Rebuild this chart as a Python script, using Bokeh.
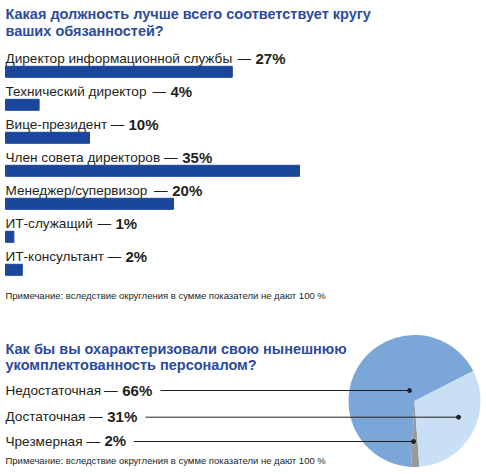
from bokeh.plotting import figure
from bokeh.models import Range1d
from bokeh.core.properties import value
from bokeh.embed import file_html
from bokeh.resources import INLINE
import math

# ---- data ----
title1 = ["Какая должность лучше всего соответствует кругу", "ваших обязанностей?"]
roles = ["Директор информационной службы", "Технический директор", "Вице-президент",
         "Член совета директоров", "Менеджер/супервизор", "ИТ-служащий", "ИТ-консультант"]
role_pct = [27, 4, 10, 35, 20, 1, 2]
note = "Примечание: вследствие округления в сумме показатели не дают 100 %"

title2 = ["Как бы вы охарактеризовали свою нынешнюю", "укомплектованность персоналом?"]
staff = ["Недостаточная", "Достаточная", "Чрезмерная"]
staff_pct = [66, 31, 2]

# ---- layout / style ----
W, H = 486, 474
PX = 8.4                        # pixels per percent unit
X0 = 5                          # left edge of bars in pixels
def fx(px):                     # pixel x -> data x
    return (px - X0) / PX
def fy(py):                     # pixel y from top -> data y
    return H - py
def base(py, fs):               # alphabetic baseline (pixels) -> middle anchor
    return fy(py - 0.36 * fs)

FONT = value("Liberation Sans")
TXT = "#231f20"
BLUE_T = "#2d4b9b"
BAR = "#1a479b"
STAFF_COLS = ["#7ba7d8", "#c8dff5", "#9a9a9a"]
pie_order = [0, 2, 1]
FS_T, FS_L, FS_P, FS_N = 14.5, 13.6, 15, 9.5

p = figure(width=W, height=H, x_range=Range1d(fx(0), fx(W)), y_range=Range1d(0, H),
           output_backend="svg", toolbar_location=None,
           x_axis_type=None, y_axis_type=None, min_border=0)
p.grid.visible = False
p.outline_line_color = None
p.background_fill_color = "white"

def label_rows(names, pcts, ys, pxs):
    n = len(names)
    p.text(x=[0] * n, y=[base(b, FS_L) for b in ys], text=names, text_font=FONT,
           text_font_size=f"{FS_L}px", text_color=TXT, text_baseline="middle")
    p.text(x=[fx(x - 4.5) for x in pxs], y=[base(b, FS_L) for b in ys], text=["—"] * n,
           text_font=FONT, text_font_size=f"{FS_L}px", text_color=TXT,
           text_baseline="middle", text_align="right")
    p.text(x=[fx(x) for x in pxs], y=[base(b, FS_P) for b in ys],
           text=[f"{v}%" for v in pcts], text_font=FONT, text_font_size=f"{FS_P}px",
           text_font_style="bold", text_color=TXT, text_baseline="middle")

# titles
for i, t in enumerate(title1):
    p.text(x=[0], y=[base(19 + 16.3 * i, FS_T)], text=[t], text_font=FONT,
           text_font_size=f"{FS_T}px", text_font_style="bold", text_color=BLUE_T,
           text_baseline="middle")

# bars
bar_y = [fy(71.3 + 33 * i) for i in range(len(roles))]
lab_b = [63.3 + 33 * i for i in range(len(roles))]
pct_x = [255, 170, 128, 181.7, 171.7, 115, 125]
p.hbar(y=bar_y, left=0, right=role_pct, height=11, color=BAR)
label_rows(roles, role_pct, lab_b, pct_x)
p.text(x=[0], y=[base(298.3, FS_N)], text=[note], text_font=FONT, text_font_size=f"{FS_N}px",
       text_color=TXT, text_baseline="middle")

# pie section
for i, t in enumerate(title2):
    p.text(x=[0], y=[base(353.3 + 16.7 * i, FS_T)], text=[t], text_font=FONT,
           text_font_size=f"{FS_T}px", text_font_style="bold", text_color=BLUE_T,
           text_baseline="middle")

cx, cy, R = fx(414), fy(400.5), 66
tot = sum(staff_pct)
ang = math.radians(27)
for k in pie_order:
    span = 2 * math.pi * staff_pct[k] / tot
    p.wedge(x=[cx], y=[cy], radius=R, radius_units="screen", start_angle=ang,
            end_angle=ang + span, color=STAFF_COLS[k], line_color=None)
    ang += span

label_rows(staff, staff_pct, [395, 421, 445.7], [121.7, 106.7, 104])

line_y = [fy(390), fy(416.7), fy(441)]
line_x0 = [fx(x) for x in [160, 145, 133.3]]
line_x1 = [fx(x) for x in [409, 458, 413]]
p.segment(x0=line_x0, y0=line_y, x1=line_x1, y1=line_y, line_color=TXT, line_width=1)
p.scatter(x=line_x1, y=line_y, size=4, color=TXT)

p.text(x=[0], y=[base(463.3, FS_N)], text=[note], text_font=FONT, text_font_size=f"{FS_N}px",
       text_color=TXT, text_baseline="middle")

open("out.html", "w").write(file_html(p, INLINE))
